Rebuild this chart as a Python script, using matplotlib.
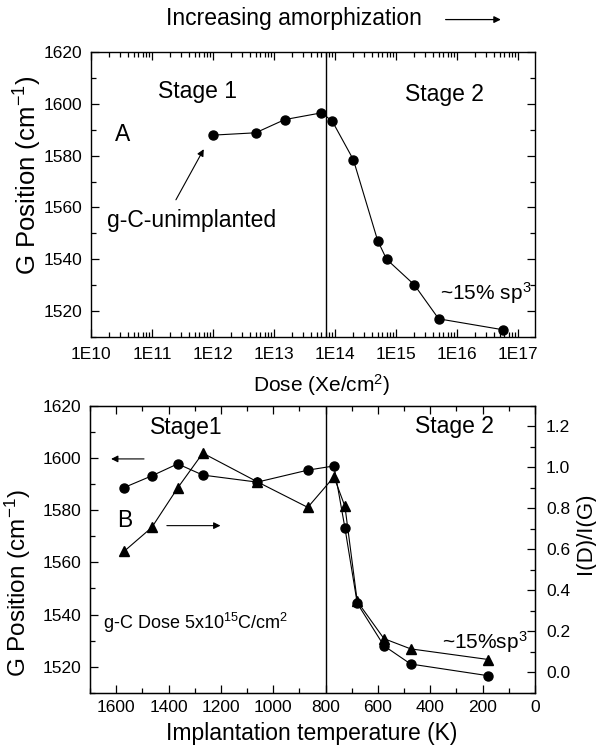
import numpy as np
import matplotlib.pyplot as plt
from matplotlib.patches import FancyArrowPatch
from matplotlib.ticker import FixedLocator, MultipleLocator, LogLocator, NullFormatter

plt.rcParams["font.family"] = ["Liberation Sans", "DejaVu Sans"]
plt.rcParams["mathtext.fontset"] = "custom"
plt.rcParams["mathtext.rm"] = "Liberation Sans"
plt.rcParams["mathtext.it"] = "Liberation Sans:italic"
plt.rcParams["mathtext.default"] = "rm"

# panel A: G position vs Xe dose
dose = [1e12, 5e12, 1.5e13, 6e13, 9e13, 2e14, 5e14, 7e14, 2e15, 5e15, 5.6e16]
g_pos_dose = [1587.9, 1588.8, 1593.9, 1596.5, 1593.3, 1578.4, 1547.2, 1540.0, 1530.1, 1517.0, 1512.8]
dose_ticks = [1e10, 1e11, 1e12, 1e13, 1e14, 1e15, 1e16, 1e17]
dose_labels = ["1E10", "1E11", "1E12", "1E13", "1E14", "1E15", "1E16", "1E17"]
dose_boundary = 7e13

# panel B: G position and I(D)/I(G) vs implantation temperature
temp = [1570, 1464, 1365, 1269, 1061, 868, 768, 726, 679, 577, 475, 178]
g_pos_temp = [1588.7, 1593.2, 1597.8, 1593.5, 1590.8, 1595.4, 1597.0, 1573.2, 1544.3, 1528.0, 1521.0, 1516.5]
id_ig = [0.59, 0.707, 0.90, 1.07, 0.93, 0.805, 0.954, 0.81, 0.346, 0.164, 0.114, 0.062]
temp_boundary = 800

TICK = 12.5
TXT = 16.5


def style_axis(ax):
    ax.tick_params(which="both", direction="in", top=True, right=True, labelsize=TICK, width=0.9)
    ax.tick_params(which="major", length=6)
    ax.tick_params(which="minor", length=3.5)
    for s in ax.spines.values():
        s.set_linewidth(1.0)


fig = plt.figure(figsize=(5.96, 7.53), dpi=100)

# ---- panel A ----
ax1 = fig.add_axes([0.1527, 0.5525, 0.745, 0.3785])
ax1.plot(dose, g_pos_dose, "-o", color="black", lw=0.8, ms=6.5)
ax1.axvline(dose_boundary, color="black", lw=1.0)
ax1.set_xscale("log")
ax1.set_xlim(1e10, 1.9e17)
ax1.set_ylim(1510, 1620)
ax1.xaxis.set_major_locator(FixedLocator(dose_ticks))
ax1.set_xticklabels(dose_labels)
ax1.xaxis.set_minor_locator(LogLocator(base=10, subs=np.arange(2, 10), numticks=20))
ax1.xaxis.set_minor_formatter(NullFormatter())
ax1.yaxis.set_major_locator(MultipleLocator(20))
ax1.yaxis.set_minor_locator(MultipleLocator(10))
style_axis(ax1)
ax1.tick_params(axis="x", pad=7)
ax1.tick_params(axis="y", pad=6)
ax1.set_xlabel("Dose (Xe/cm$^2$)", fontsize=15)
ax1.xaxis.set_label_coords(0.519, -0.125)
ax1.set_ylabel("G Position (cm$^{-1}$)", fontsize=18.5)
ax1.yaxis.set_label_coords(-0.105, 0.568)

ax1.text(0.24, 0.861, "Stage 1", transform=ax1.transAxes, fontsize=TXT, ha="center", va="center")
ax1.text(0.796, 0.852, "Stage 2", transform=ax1.transAxes, fontsize=TXT, ha="center", va="center")
ax1.text(0.071, 0.709, "A", transform=ax1.transAxes, fontsize=TXT, ha="center", va="center")
ax1.text(0.227, 0.41, "g-C-unimplanted", transform=ax1.transAxes, fontsize=TXT, ha="center", va="center")
ax1.annotate("", xy=(10**11.87, 1583.4), xytext=(10**11.37, 1562),
             arrowprops=dict(arrowstyle="-|>", color="black", lw=0.8, mutation_scale=10))
ax1.text(0.785, 0.153, "~15% sp$^3$", transform=ax1.transAxes, fontsize=15, ha="left", va="center")

fig.text(0.494, 0.976, "Increasing amorphization", fontsize=TXT, ha="center", va="center")
fig.add_artist(FancyArrowPatch((0.743, 0.974), (0.845, 0.974), transform=fig.transFigure,
                               arrowstyle="-|>", mutation_scale=10, color="black", lw=0.9))

# ---- panel B ----
ax2 = fig.add_axes([0.151, 0.0801, 0.7466, 0.3807])
ax2.plot(temp, g_pos_temp, "-o", color="black", lw=0.8, ms=6.5)
ax2.axvline(temp_boundary, color="black", lw=1.0)
ax2.set_xlim(1700, 0)
ax2.set_ylim(1510, 1620)
ax2.xaxis.set_major_locator(MultipleLocator(200))
ax2.xaxis.set_minor_locator(MultipleLocator(100))
ax2.yaxis.set_major_locator(MultipleLocator(20))
ax2.yaxis.set_minor_locator(MultipleLocator(10))
style_axis(ax2)
ax2.tick_params(right=False, which="both")
ax2.tick_params(axis="x", pad=5)
ax2.tick_params(axis="y", pad=6)
ax2.set_xlabel("Implantation temperature (K)", fontsize=TXT)
ax2.xaxis.set_label_coords(0.499, -0.104)
ax2.set_ylabel("G Position (cm$^{-1}$)", fontsize=17.5)
ax2.yaxis.set_label_coords(-0.128, 0.383)

ax3 = ax2.twinx()
ax3.plot(temp, id_ig, "-^", color="black", lw=0.8, ms=7)
ax3.set_ylim(-0.1, 1.3)
ax3.yaxis.set_major_locator(FixedLocator([0.0, 0.2, 0.4, 0.6, 0.8, 1.0, 1.2]))
ax3.yaxis.set_minor_locator(MultipleLocator(0.1))
ax3.yaxis.set_major_formatter(plt.FormatStrFormatter("%.1f"))
ax3.tick_params(which="both", direction="in", labelsize=TICK, width=0.9, pad=8)
ax3.tick_params(which="major", length=6)
ax3.tick_params(which="minor", length=3.5)
ax3.set_ylabel("I(D)/I(G)", fontsize=16)
ax3.yaxis.set_label_coords(1.09, 0.557)

ax2.text(0.217, 0.926, "Stage1", transform=ax2.transAxes, fontsize=TXT, ha="center", va="center")
ax2.text(0.820, 0.930, "Stage 2", transform=ax2.transAxes, fontsize=TXT, ha="center", va="center")
ax2.text(0.079, 0.602, "B", transform=ax2.transAxes, fontsize=TXT, ha="center", va="center")
ax2.text(0.030, 0.242, "g-C Dose 5x10$^{15}$C/cm$^2$", transform=ax2.transAxes,
         fontsize=13, ha="left", va="center")
ax2.text(0.790, 0.178, "~15%sp$^3$", transform=ax2.transAxes, fontsize=15, ha="left", va="center")
ax2.annotate("", xy=(1630, 1599.7), xytext=(1483, 1599.7),
             arrowprops=dict(arrowstyle="-|>", color="black", lw=0.8, mutation_scale=10))
ax2.annotate("", xy=(1191, 1574.1), xytext=(1417, 1574.1),
             arrowprops=dict(arrowstyle="-|>", color="black", lw=0.8, mutation_scale=10))

fig.savefig("out.png", dpi=100)
